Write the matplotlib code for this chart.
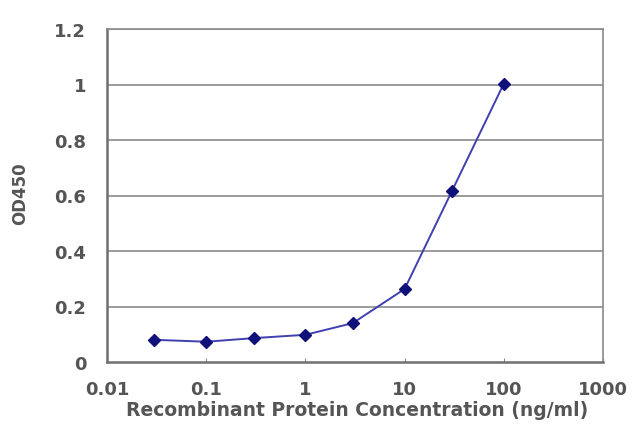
import numpy as np
import matplotlib
matplotlib.use("Agg")
import matplotlib.pyplot as plt

# concentration (ng/ml) and OD450
conc = [0.03, 0.1, 0.3, 1, 3, 10, 30, 100]
od450 = [0.080, 0.073, 0.086, 0.098, 0.140, 0.263, 0.616, 1.003]

xticks = [0.01, 0.1, 1, 10, 100, 1000]
xticklabels = ["0.01", "0.1", "1", "10", "100", "1000"]
yticks = [0, 0.2, 0.4, 0.6, 0.8, 1, 1.2]
yticklabels = ["0", "0.2", "0.4", "0.6", "0.8", "1", "1.2"]

plt.rcParams['font.family'] = ['DejaVu Sans']
plt.rcParams['font.weight'] = 'bold'

fig = plt.figure(figsize=(6.4, 4.27), dpi=100)
ax = fig.add_axes([107/640, 1-363/427, (603-107)/640, (363-30)/427])

ax.plot(conc, od450, color='#4040b0', lw=1.4, marker='D', ms=6,
        mfc='#10107a', mec='#10107a', zorder=3)

ax.set_xscale('log')
ax.set_xlim(0.01, 1000)
ax.set_ylim(0, 1.2)
ax.set_xticks(xticks)
ax.set_xticklabels(xticklabels)
ax.minorticks_off()
ax.set_yticks(yticks)
ax.set_yticklabels(yticklabels)

for y in yticks[1:]:
    ax.axhline(y, color='#8a8a8a', lw=1.2, zorder=1)

for s in ax.spines.values():
    s.set_color('#8a8a8a')
    s.set_linewidth(1.2)
ax.spines['left'].set_color('#707070')
ax.spines['left'].set_linewidth(1.8)
ax.spines['bottom'].set_color('#707070')
ax.spines['bottom'].set_linewidth(1.8)

ax.tick_params(axis='x', direction='in', length=3, color='#8a8a8a',
               labelsize=13, labelcolor='#555555', pad=13)
ax.tick_params(axis='y', length=0, labelsize=13, labelcolor='#555555', pad=15)

ax.set_xlabel('Recombinant Protein Concentration (ng/ml)', fontsize=13.5,
              color='#555555', fontweight='bold')
ax.xaxis.set_label_coords(0.505, -0.143)
ax.xaxis.label.set_va('center')
ax.set_ylabel('OD450', fontsize=12, color='#555555', fontweight='bold')
ax.yaxis.set_label_coords(-0.175, 0.507)
ax.yaxis.label.set_va('center')

fig.savefig('out.png', dpi=100)
